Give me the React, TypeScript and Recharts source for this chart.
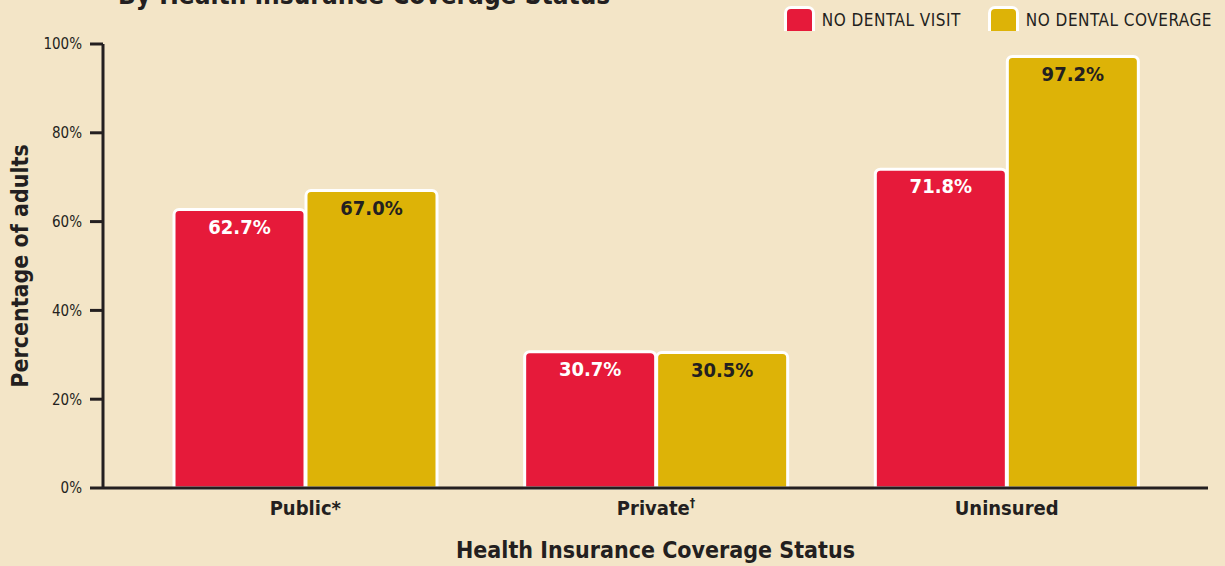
import React from 'react'
import { BarChart, Bar, XAxis, YAxis, LabelList, Label } from 'recharts'

const categories = ['Public*', 'Private†', 'Uninsured']
const noDentalVisit = [62.7, 30.7, 71.8]
const noDentalCoverage = [67.0, 30.5, 97.2]
const seriesNames = ['NO DENTAL VISIT', 'NO DENTAL COVERAGE']
const yTicks = [0, 20, 40, 60, 80, 100]

const RED = '#E61A3A'
const GOLD = '#DDB307'
const INK = '#231F20'
const BG = '#F3E5C7'
const FONT = '"DejaVu Sans Condensed", "Liberation Sans Narrow", sans-serif'

const data = categories.map((name, i) => ({
  name,
  visit: noDentalVisit[i],
  coverage: noDentalCoverage[i],
}))

const seriesColors = [RED, GOLD]

const CategoryTick = (props: any) => {
  const { x, y, payload } = props
  const label: string = payload.value
  const dagger = label.endsWith('†')
  const base = dagger ? label.slice(0, -1) : label
  return (
    <text x={x} y={y} dy={19} textAnchor="middle" fill={INK} fontFamily={FONT} fontWeight="bold" fontSize={20}>
      {base}
      {dagger && (
        <tspan fontSize={12} dy={-8}>†</tspan>
      )}
    </text>
  )
}

// legend kept outside the chart so it doesn't eat plot height
function TopLegend() {
  return (
    <div style={{ position: 'absolute', top: 6, right: 13, display: 'flex', gap: 27 }}>
      {seriesNames.map((name, i) => (
        <div key={name} style={{ display: 'flex', alignItems: 'flex-start' }}>
          <div
            style={{
              width: 25,
              height: 22,
              background: seriesColors[i],
              border: '3px solid #fff',
              borderBottom: 'none',
              borderRadius: '7px 7px 0 0',
              marginRight: 7,
            }}
          />
          <span style={{ fontFamily: FONT, fontSize: 17, letterSpacing: 0.5, color: INK, lineHeight: '28px' }}>{name}</span>
        </div>
      ))}
    </div>
  )
}

export default function App() {
  return (
    <div style={{ position: 'fixed', left: 0, top: 0, width: 1225, height: 566, background: BG, overflow: 'hidden' }}>
      <div
        style={{
          position: 'absolute',
          left: 118,
          top: -18,
          fontFamily: FONT,
          fontWeight: 'bold',
          fontSize: 26,
          lineHeight: 1,
          color: INK,
        }}
      >
        By Health Insurance Coverage Status
      </div>
      <TopLegend />
      <BarChart
        width={1225}
        height={566}
        data={data}
        margin={{ top: 44, right: 17, bottom: 0, left: 0 }}
        barGap={1}
        barSize={131}
      >
        <XAxis
          dataKey="name"
          height={78}
          padding={{ left: 27, right: 26 }}
          axisLine={{ stroke: INK, strokeWidth: 3 }}
          tickLine={false}
          tick={<CategoryTick />}
        >
          <Label
            content={(p: any) => (
              <text
                x={p.viewBox.x + p.viewBox.width / 2}
                y={p.viewBox.y + 70}
                textAnchor="middle"
                fill={INK}
                fontFamily={FONT}
                fontWeight="bold"
                fontSize={23}
              >
                Health Insurance Coverage Status
              </text>
            )}
          />
        </XAxis>
        <YAxis
          width={103}
          domain={[0, 100]}
          ticks={yTicks}
          interval={0}
          tickFormatter={(v: number) => `${v}%`}
          axisLine={{ stroke: INK, strokeWidth: 3 }}
          tickLine={{ stroke: INK, strokeWidth: 3 }}
          tickSize={13}
          tickMargin={8}
          tick={{ fill: INK, fontSize: 15, fontFamily: FONT }}
        >
          <Label
            content={(p: any) => {
              const cx = p.viewBox.x + 20
              const cy = p.viewBox.y + p.viewBox.height / 2
              return (
                <text
                  x={cx}
                  y={cy}
                  transform={`rotate(-90, ${cx}, ${cy})`}
                  textAnchor="middle"
                  dominantBaseline="central"
                  fill={INK}
                  fontFamily={FONT}
                  fontWeight="bold"
                  fontSize={23}
                >
                  Percentage of adults
                </text>
              )
            }}
          />
        </YAxis>
        <Bar
          dataKey="visit"
          name={seriesNames[0]}
          fill={RED}
          stroke="#fff"
          strokeWidth={3}
          radius={[5, 5, 0, 0]}
          isAnimationActive={false}
        >
          <LabelList
            dataKey="visit"
            position="insideTop"
            offset={10}
            formatter={(v: any) => `${Number(v).toFixed(1)}%`}
            style={{ fill: '#fff', fontFamily: FONT, fontWeight: 'bold', fontSize: 20 }}
          />
        </Bar>
        <Bar
          dataKey="coverage"
          name={seriesNames[1]}
          fill={GOLD}
          stroke="#fff"
          strokeWidth={3}
          radius={[5, 5, 0, 0]}
          isAnimationActive={false}
        >
          <LabelList
            dataKey="coverage"
            position="insideTop"
            offset={10}
            formatter={(v: any) => `${Number(v).toFixed(1)}%`}
            style={{ fill: INK, fontFamily: FONT, fontWeight: 'bold', fontSize: 20 }}
          />
        </Bar>
      </BarChart>
    </div>
  )
}
